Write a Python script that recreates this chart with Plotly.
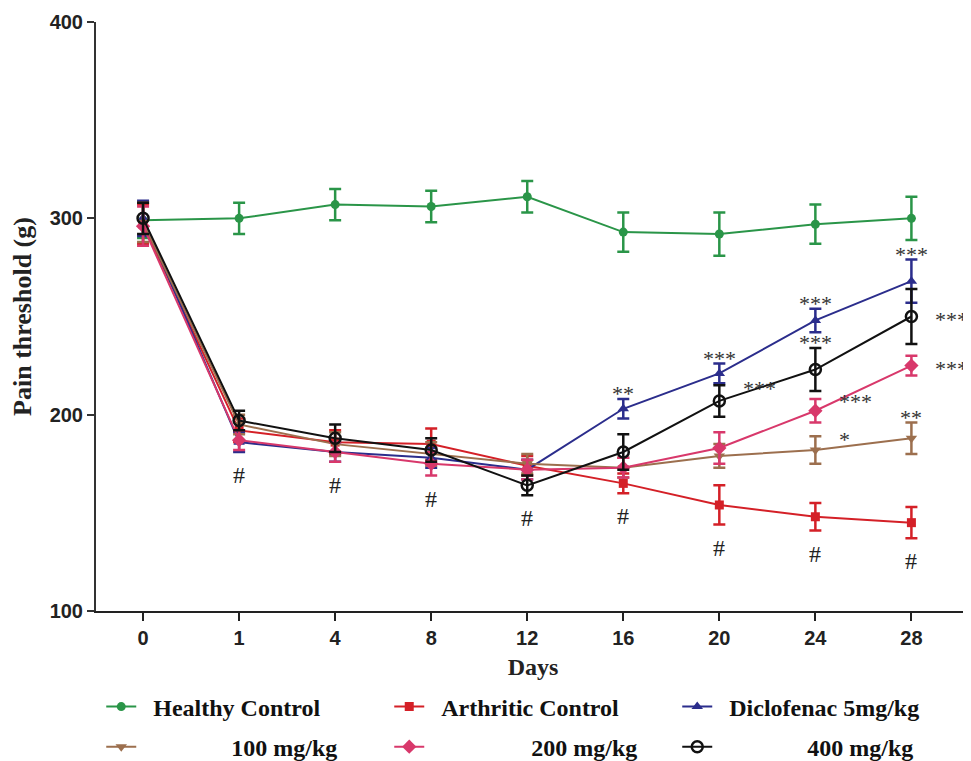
import plotly.graph_objects as go

# ---------------- data ----------------
days = ["0", "1", "4", "8", "12", "16", "20", "24", "28"]

healthy = [299, 300, 307, 306, 311, 293, 292, 297, 300]
healthy_err = [9, 8, 8, 8, 8, 10, 11, 10, 11]

arthritic = [297, 192, 186, 185, 174, 165, 154, 148, 145]
arthritic_err = [10, 6, 6, 8, 5, 5, 10, 7, 8]

diclofenac = [300, 186, 181, 178, 172, 203, 221, 248, 268]
diclofenac_err = [9, 5, 5, 5, 5, 5, 5, 6, 11]

dose100 = [298, 195, 185, 180, 175, 173, 179, 182, 188]
dose100_err = [10, 5, 6, 6, 5, 5, 6, 7, 8]

dose200 = [296, 187, 181, 175, 172, 173, 183, 202, 225]
dose200_err = [10, 5, 5, 6, 5, 5, 8, 6, 5]

dose400 = [300, 197, 188, 182, 164, 181, 207, 223, 250]
dose400_err = [8, 5, 7, 6, 5, 9, 8, 11, 14]

names = ["Healthy Control", "Arthritic Control", "Diclofenac 5mg/kg",
         "100 mg/kg", "200 mg/kg", "400 mg/kg"]

# significance marks: (series key, day, text, placement)
hash_days = ["1", "4", "8", "12", "16", "20", "24", "28"]
sig_marks = [
    ("dic", "16", "**", "above"),
    ("dic", "20", "***", "above"),
    ("d400", "20", "***", "right_top"),
    ("dic", "24", "***", "above"),
    ("d400", "24", "***", "above"),
    ("d200", "24", "***", "right_top"),
    ("d100", "24", "*", "right_top"),
    ("dic", "28", "***", "above"),
    ("d400", "28", "***", "right"),
    ("d200", "28", "***", "right"),
    ("d100", "28", "**", "above"),
]

# ---------------- styling ----------------
series = {
    "healthy": dict(y=healthy, e=healthy_err, name=names[0], color="#2a9548",
                    symbol="circle", size=9, legend="legend", pad=0),
    "arth": dict(y=arthritic, e=arthritic_err, name=names[1], color="#d42027",
                 symbol="square", size=9, legend="legend", pad=0),
    "dic": dict(y=diclofenac, e=diclofenac_err, name=names[2], color="#2b2d8c",
                symbol="triangle-up", size=10, legend="legend", pad=0),
    "d100": dict(y=dose100, e=dose100_err, name=names[3], color="#9c6f4e",
                 symbol="triangle-down", size=10, legend="legend2", pad=13),
    "d200": dict(y=dose200, e=dose200_err, name=names[4], color="#d8386b",
                 symbol="diamond", size=11, legend="legend2", pad=15),
    "d400": dict(y=dose400, e=dose400_err, name=names[5], color="#111111",
                 symbol="circle-open", size=11, legend="legend2", pad=13),
}

fig = go.Figure()
for key, s in series.items():
    fig.add_trace(go.Scatter(
        x=days, y=s["y"], name="\u00a0\u00a0" + "\u00a0" * s["pad"] + s["name"],
        mode="lines+markers", legend=s["legend"],
        line=dict(color=s["color"], width=2),
        marker=dict(symbol=s["symbol"], size=s["size"], color=s["color"],
                    line=dict(color=s["color"], width=2.5 if key == "d400" else 0)),
        error_y=dict(type="data", array=s["e"], visible=True,
                     color=s["color"], thickness=2.5, width=6),
    ))

# "#" marks below lowest error bar at each day
for d in hash_days:
    i = days.index(d)
    low = min(s["y"][i] - s["e"][i] for k, s in series.items() if k != "healthy")
    fig.add_annotation(x=i, y=low, text="#", showarrow=False, yanchor="top", yshift=-8,
                       font=dict(family="Liberation Serif", size=24, color="#222222"))

# star marks
for key, d, txt, place in sig_marks:
    s = series[key]
    i = days.index(d)
    if place == "above":
        fig.add_annotation(x=i, y=s["y"][i] + s["e"][i], text=txt, showarrow=False,
                           yanchor="bottom", yshift=-9,
                           font=dict(family="Liberation Serif", size=22, color="#333333"))
    else:
        yv = s["y"][i] + (s["e"][i] if place == "right_top" else 0)
        fig.add_annotation(x=i, y=yv, text=txt, showarrow=False,
                           xanchor="left", xshift=22, yanchor="middle", yshift=-3,
                           font=dict(family="Liberation Serif", size=22, color="#333333"))

legend_font = dict(family="Liberation Serif", size=24, color="#111111", weight="bold")

fig.update_layout(
    width=971, height=761,
    margin=dict(l=88, r=9, t=14, b=158, autoexpand=False),
    plot_bgcolor="white", paper_bgcolor="white",
    showlegend=True,
    legend=dict(orientation="h", x=0.006, xanchor="left", y=-0.163, yanchor="middle",
                entrywidth=243, font=legend_font, bgcolor="rgba(0,0,0,0)"),
    legend2=dict(orientation="h", x=0.006, xanchor="left", y=-0.231, yanchor="middle",
                 entrywidth=243, font=legend_font, bgcolor="rgba(0,0,0,0)"),
    xaxis=dict(
        type="category", range=[-0.49, 8.61], automargin=False,
        showline=True, linecolor="#222222", linewidth=2,
        ticks="outside", ticklen=8, tickwidth=2, tickcolor="#222222",
        showgrid=False, zeroline=False,
        tickfont=dict(family="Liberation Sans Narrow, Liberation Sans", size=20,
                      color="#222222", weight="bold"),
        title=dict(text="Days", standoff=10,
                   font=dict(family="Liberation Serif", size=24, color="#222222", weight="bold")),
    ),
    yaxis=dict(
        range=[100, 400], tickvals=[100, 200, 300, 400], automargin=False,
        showline=True, linecolor="#333333", linewidth=2,
        ticks="outside", ticklen=7, tickwidth=2, tickcolor="#333333",
        showgrid=False, zeroline=False,
        tickfont=dict(family="Liberation Sans", size=20, color="#222222", weight="bold"),
        title=dict(text="Pain threshold (g)", standoff=12,
                   font=dict(family="Liberation Serif", size=26, color="#222222", weight="bold")),
    ),
)

fig.write_html("out.html")
